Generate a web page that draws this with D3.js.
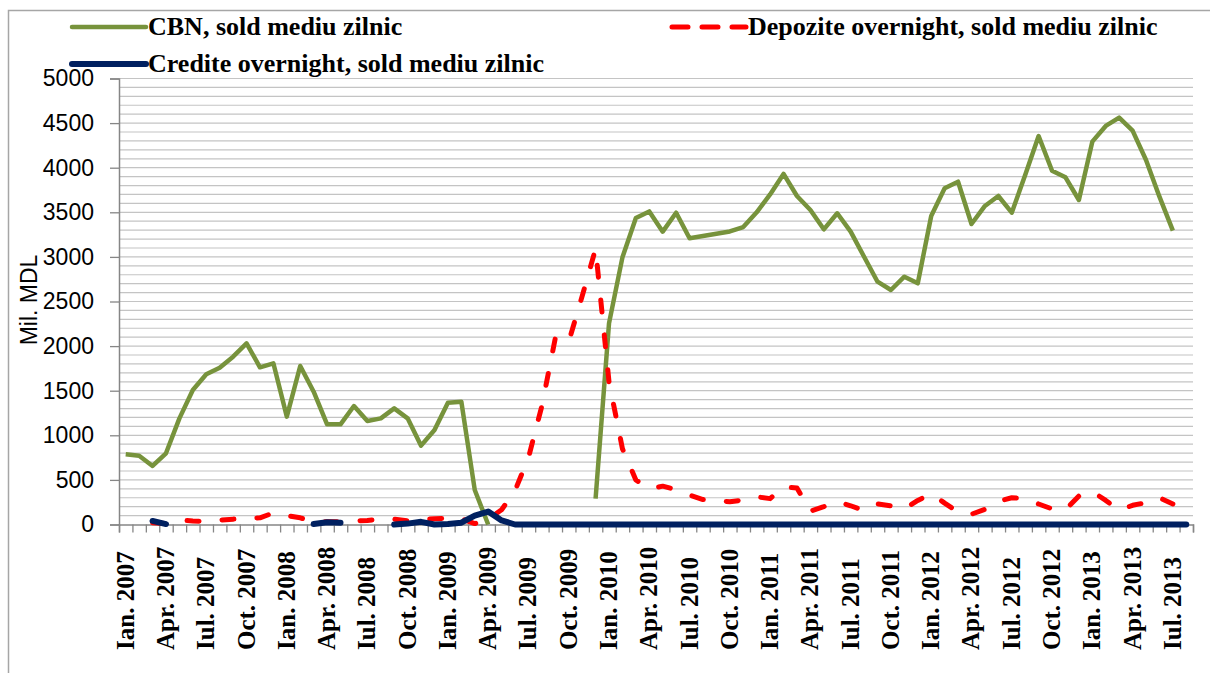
<!DOCTYPE html>
<html>
<head>
<meta charset="utf-8">
<script src="https://cdn.jsdelivr.net/npm/d3@7"></script>
<style>
body { margin: 0; background: #fff; }
</style>
</head>
<body>
<svg id="chart" width="1210" height="673"></svg>
<script>
// data
var monthNames = ['Ian.', 'Feb.', 'Mar.', 'Apr.', 'Mai.', 'Iun.', 'Iul.', 'Aug.', 'Sep.', 'Oct.', 'Noi.', 'Dec.'];
var years = [2007, 2008, 2009, 2010, 2011, 2012, 2013];
var categories = [];
years.forEach(function(yr) {
	monthNames.forEach(function(m) { categories.push(m + ' ' + yr); });
});
categories = categories.slice(0, 80); // Ian. 2007 .. Aug. 2013

var tickLabels = [
	'Ian. 2007', 'Apr. 2007', 'Iul. 2007', 'Oct. 2007',
	'Ian. 2008', 'Apr. 2008', 'Iul. 2008', 'Oct. 2008',
	'Ian. 2009', 'Apr. 2009', 'Iul. 2009', 'Oct. 2009',
	'Ian. 2010', 'Apr. 2010', 'Iul. 2010', 'Oct. 2010',
	'Ian. 2011', 'Apr. 2011', 'Iul. 2011', 'Oct. 2011',
	'Ian. 2012', 'Apr. 2012', 'Iul. 2012', 'Oct. 2012',
	'Ian. 2013', 'Apr. 2013', 'Iul. 2013'
];

var cbn = [
	787, 771, 656, 798, 1190, 1508, 1684, 1758, 1881, 2031, 1762, 1807,
	1209, 1777, 1489, 1123, 1123, 1328, 1160, 1190, 1302, 1190, 884, 1059,
	1366, 1377, 387, 0, null, null, null, null, null, null, null, 290,
	2255, 2995, 3436, 3510, 3283, 3495, 3209, 3235, 3260, 3285, 3335, 3500,
	3700, 3930, 3683, 3526, 3309, 3489, 3283, 3002, 2722, 2629, 2778, 2704,
	3459, 3769, 3843, 3369, 3571, 3683, 3496, 3918, 4355, 3966, 3892, 3638,
	4292, 4468, 4561, 4415, 4086, 3675, 3294, null
];
var depozite = [
	null, null, 20, 10, 50, 40, 35, 50, 60, 70, 75, 130,
	100, 75, 30, 30, 30, 40, 45, 60, 60, 40, 55, 65,
	70, 65, 10, 60, 165, 380, 750, 1330, 2090, 2050, 2560, 3090,
	1600, 850, 500, 400, 430, 390, 330, 280, 270, 255, 275, 310,
	290, 420, 410, 150, 200, 256, 210, 155, 230, 210, 175, 270,
	345, 240, 140, 115, 170, 260, 300, 290, 230, 175, 165, 320,
	370, 270, 160, 215, 245, 300, 230, null
];
var credite = [
	null, null, 40, 5, null, null, null, null, null, null, null, null,
	null, null, 5, 25, 20, null, null, null, 0, 10, 30, 0,
	5, 20, 100, 145, 45, 0, 0, 0, 0, 0, 0, 0,
	0, 0, 0, 0, 0, 0, 0, 0, 0, 0, 0, 0,
	0, 0, 0, 0, 0, 0, 0, 0, 0, 0, 0, 0,
	0, 0, 0, 0, 0, 0, 0, 0, 0, 0, 0, 0,
	0, 0, 0, 0, 0, 0, 0, 0
];

var seriesNames = ['CBN, sold mediu zilnic', 'Depozite overnight, sold mediu zilnic', 'Credite overnight, sold mediu zilnic'];
var seriesColors = ['#77933c', '#ff0000', '#002060'];

// layout
var plotLeft = 119, plotRight = 1193, plotTop = 78.5, plotBottom = 524.5;
var serif = '"Liberation Serif", "Times New Roman", serif';
var sans = '"Liberation Sans", Arial, sans-serif';

var svg = d3.select('#chart');

// outer frame
svg.append('rect')
	.attr('x', 8.5).attr('y', 10.5)
	.attr('width', 1210).attr('height', 680)
	.attr('fill', 'none')
	.attr('stroke', '#a6a6a6')
	.attr('stroke-width', 1.5);

var x = d3.scaleBand().domain(categories).range([plotLeft, plotRight]);
var y = d3.scaleLinear().domain([0, 5000]).range([plotBottom, plotTop]);

// gridlines, every 100
svg.append('g').selectAll('line')
	.data(d3.range(100, 5001, 100))
	.enter().append('line')
	.attr('x1', plotLeft).attr('x2', plotRight)
	.attr('y1', function(d) { return y(d); })
	.attr('y2', function(d) { return y(d); })
	.attr('stroke', '#c4c4c4')
	.attr('stroke-width', 1.2);

// y axis
var yAxis = svg.append('g')
	.attr('transform', 'translate(' + plotLeft + ',0)')
	.call(d3.axisLeft(y).tickValues(d3.range(0, 5001, 500)).tickSize(9).tickPadding(16).tickFormat(d3.format('d')));
yAxis.select('.domain').attr('stroke', '#868686').attr('stroke-width', 1.5);
yAxis.selectAll('.tick line').attr('stroke', '#868686').attr('stroke-width', 1.3);
yAxis.selectAll('.tick text')
	.attr('font-family', sans)
	.attr('font-size', 23)
	.attr('fill', '#000');

// x axis, ticks between months
var xTicks = d3.scaleLinear().domain([0, categories.length]).range([plotLeft, plotRight]);
var xAxis = svg.append('g')
	.attr('transform', 'translate(0,' + plotBottom + ')')
	.call(d3.axisBottom(xTicks).tickValues(d3.range(0, categories.length + 1)).tickSize(8).tickFormat(''));
xAxis.select('.domain').attr('stroke', '#868686').attr('stroke-width', 1.5);
xAxis.selectAll('.tick line').attr('stroke', '#868686').attr('stroke-width', 1.3);

svg.append('g').selectAll('text')
	.data(tickLabels)
	.enter().append('text')
	.attr('transform', function(d) {
		return 'translate(' + (x(d) + x.bandwidth() / 2 + 8) + ',650) rotate(-90)';
	})
	.attr('font-family', serif)
	.attr('font-weight', 'bold')
	.attr('font-size', 25)
	.text(function(d) { return d; });

// y title
svg.append('text')
	.attr('transform', 'translate(37,300) rotate(-90)')
	.attr('text-anchor', 'middle')
	.attr('font-family', sans)
	.attr('font-size', 23)
	.text('Mil. MDL');

// series
var line = d3.line()
	.defined(function(d) { return d !== null; })
	.x(function(d, i) { return x(categories[i]) + x.bandwidth() / 2; })
	.y(function(d) { return y(d); });

svg.append('path').datum(cbn)
	.attr('d', line)
	.attr('fill', 'none')
	.attr('stroke', seriesColors[0])
	.attr('stroke-width', 4.5)
	.attr('stroke-linejoin', 'round');

svg.append('path').datum(depozite)
	.attr('d', line)
	.attr('fill', 'none')
	.attr('stroke', seriesColors[1])
	.attr('stroke-width', 5)
	.attr('stroke-dasharray', '12,23')
	.attr('stroke-linecap', 'round')
	.attr('stroke-linejoin', 'round');

svg.append('path').datum(credite)
	.attr('d', line)
	.attr('fill', 'none')
	.attr('stroke', seriesColors[2])
	.attr('stroke-width', 6)
	.attr('stroke-linecap', 'round')
	.attr('stroke-linejoin', 'round');

// legend
var legendItems = [
	{ name: seriesNames[0], color: seriesColors[0], x: 72, y: 27, dash: null, w: 4.5 },
	{ name: seriesNames[1], color: seriesColors[1], x: 672, y: 27, dash: '16,14', w: 5 },
	{ name: seriesNames[2], color: seriesColors[2], x: 72, y: 64, dash: null, w: 6 }
];
var legend = svg.append('g').selectAll('g')
	.data(legendItems)
	.enter().append('g');
legend.append('line')
	.attr('x1', function(d) { return d.x; })
	.attr('x2', function(d) { return d.x + 74; })
	.attr('y1', function(d) { return d.y; })
	.attr('y2', function(d) { return d.y; })
	.attr('stroke', function(d) { return d.color; })
	.attr('stroke-width', function(d) { return d.w; })
	.attr('stroke-linecap', 'round')
	.attr('stroke-dasharray', function(d) { return d.dash; });
legend.append('text')
	.attr('x', function(d) { return d.x + 76; })
	.attr('y', function(d) { return d.y + 8; })
	.attr('font-family', serif)
	.attr('font-weight', 'bold')
	.attr('font-size', 26)
	.text(function(d) { return d.name; });
</script>
</body>
</html>
